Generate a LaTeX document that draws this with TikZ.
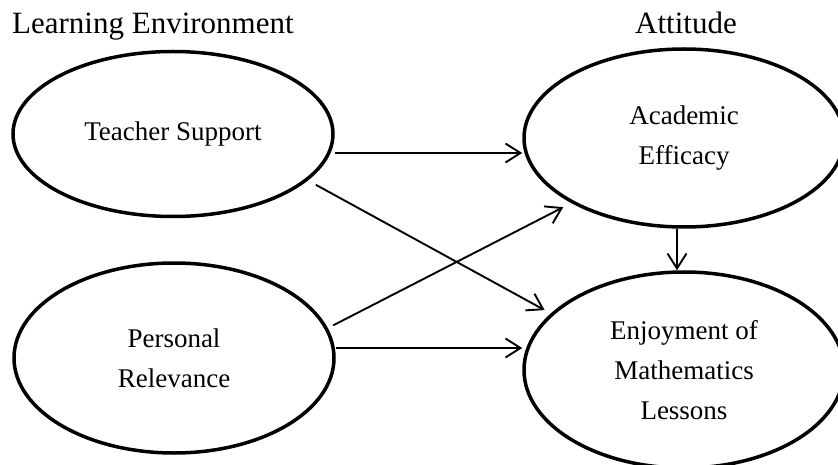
\documentclass[tikz,border=0pt]{standalone}
\usepackage{fontspec}
\setmainfont{Liberation Serif}
\usetikzlibrary{shapes,arrows.meta,positioning,calc}

\begin{document}
\begin{tikzpicture}[x=1pt, y=-1pt, >={Straight Barb[length=15pt,width=19pt]},
    latent/.style={draw, ellipse, line width=3.5pt, align=center, minimum width=320pt, font=\fontsize{27}{40}\selectfont},
    effect/.style={->, line width=1.9pt},
    heading/.style={font=\fontsize{31}{36}\selectfont, inner sep=0pt}]
    \useasboundingbox (0,0) rectangle (838,465);
    \clip (0,0) rectangle (838,465);

    % Headings
    \node [heading, anchor=base west] (env) at (12,34) {Learning Environment};
    \node [heading, anchor=base] (att) at (686,34) {Attitude};

    % Nodes
    \node [latent, minimum height=165pt] (ts) at (173,134) {Teacher Support};
    \node [latent, minimum height=190pt] (pr) at (174,358) {Personal\\Relevance};
    \node [latent, minimum height=178pt] (ae) at (684,138) {Academic\\Efficacy};
    \node [latent, minimum height=196pt] (ej) at (684,370) {Enjoyment of\\Mathematics\\Lessons};

    % Connections
    \draw [effect] ($(ts.east)+(0,19)$) -- ($(ae.west)+(0,15)$);
    \draw [effect, shorten <=9pt, shorten >=7pt] (ts.-19) -- (ej.157);
    \draw [effect, shorten <=6pt, shorten >=9pt] (pr.11) -- (ae.210);
    \draw [effect] ($(pr.east)+(0,-10)$) -- ($(ej.west)+(0,-22)$);
    \draw [effect] ($(ae.south)+(-7,0)$) -- ($(ej.north)+(-7,0)$);
\end{tikzpicture}
\end{document}
